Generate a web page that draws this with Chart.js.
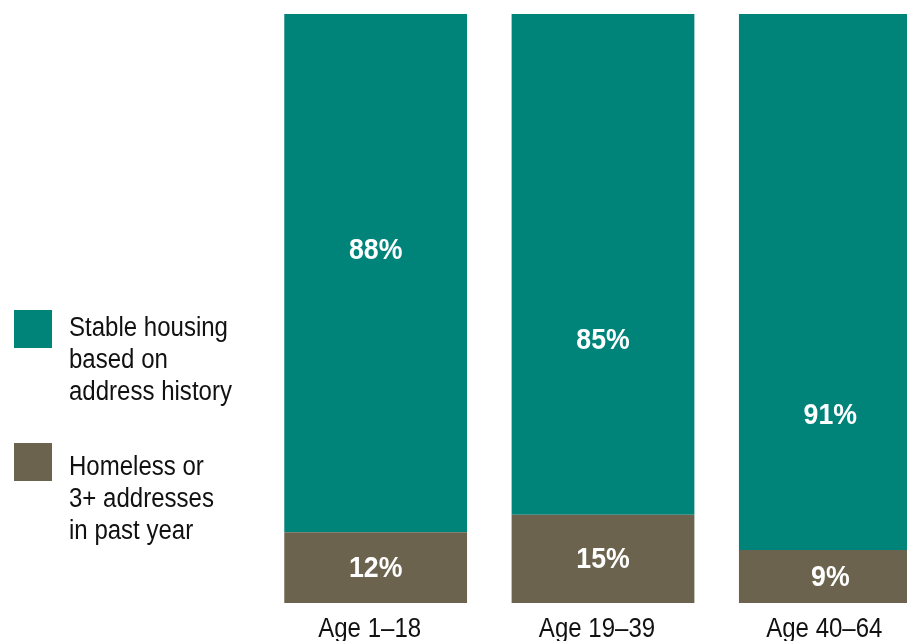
<!DOCTYPE html>
<html>
<head>
<meta charset="utf-8">
<script src="https://cdn.jsdelivr.net/npm/chart.js@4/dist/chart.umd.min.js"></script>
<style>
  html, body { margin: 0; padding: 0; background: #fff; overflow: hidden; width: 907px; height: 641px; }
  #wrap { position: absolute; left: 0; top: 0; width: 960px; height: 641px; }
  .legend { position: absolute; left: 0; top: 0; font-family: "Liberation Sans", Arial, sans-serif; font-size: 27px; line-height: 32px; color: #111; }
  .item { position: absolute; left: 14px; width: 260px; }
  .sw { position: absolute; left: 0; top: 0; width: 38px; height: 38px; }
  .txt { position: absolute; left: 55px; top: 0; white-space: nowrap; transform: scaleX(0.89); transform-origin: 0 0; }
</style>
</head>
<body>
<div id="wrap"><canvas id="c" width="960" height="641"></canvas></div>
<div class="legend">
  <div class="item" style="top:310px"><div class="sw" style="background:#00847a"></div><div class="txt" style="top:1px">Stable housing<br>based on<br>address history</div></div>
  <div class="item" style="top:443px"><div class="sw" style="background:#6b634e"></div><div class="txt" style="top:7px">Homeless or<br>3+ addresses<br>in past year</div></div>
</div>
<script>
// values
const categories = ['Age 1–18', 'Age 19–39', 'Age 40–64'];
const stable = [88, 85, 91];
const homeless = [12, 15, 9];
// where the upper % labels sit (in % of the axis, as printed)
const stableLabelAt = [60, 44.7, 32];

const TEAL = '#00847a';
const BROWN = '#6b634e';
const FONT = '"Liberation Sans", Arial, sans-serif';
const SQUEEZE = 0.89; // fake the condensed face

function narrowText(ctx, txt, x, y) {
  ctx.save();
  ctx.translate(x, y);
  ctx.scale(SQUEEZE, 1);
  ctx.fillText(txt, 0, 0);
  ctx.restore();
}

const labelsPlugin = {
  id: 'labelsPlugin',
  afterDatasetsDraw(chart) {
    const ctx = chart.ctx;
    const y = chart.scales.y;
    const x = chart.scales.x;
    ctx.save();
    ctx.textAlign = 'center';
    ctx.textBaseline = 'middle';
    ctx.fillStyle = '#fff';
    ctx.font = 'bold 30px ' + FONT;
    chart.getDatasetMeta(0).data.forEach((el, i) => {
      narrowText(ctx, homeless[i] + '%', el.x, (el.y + el.base) / 2 + 1);
    });
    chart.getDatasetMeta(1).data.forEach((el, i) => {
      narrowText(ctx, stable[i] + '%', el.x, y.getPixelForValue(stableLabelAt[i]) + 1);
    });
    // category labels under the bars (sit a little left of centre in the original)
    ctx.fillStyle = '#111';
    ctx.font = '27px ' + FONT;
    ctx.textBaseline = 'alphabetic';
    categories.forEach((c, i) => {
      narrowText(ctx, c, x.getPixelForTick(i) - 6, chart.chartArea.bottom + 34);
    });
    ctx.restore();
  }
};

new Chart(document.getElementById('c'), {
  type: 'bar',
  data: {
    labels: categories,
    datasets: [
      { label: 'Homeless or 3+ addresses in past year', data: homeless, backgroundColor: BROWN },
      { label: 'Stable housing based on address history', data: stable, backgroundColor: TEAL }
    ]
  },
  options: {
    responsive: false,
    animation: false,
    layout: { padding: { left: 262, right: 16, top: 14, bottom: 38 } },
    datasets: { bar: { categoryPercentage: 1, barPercentage: 0.804 } },
    plugins: { legend: { display: false }, tooltip: { enabled: false } },
    scales: {
      x: { stacked: true, display: false },
      y: { stacked: true, min: 0, max: 100, display: false }
    }
  },
  plugins: [labelsPlugin]
});
</script>
</body>
</html>
